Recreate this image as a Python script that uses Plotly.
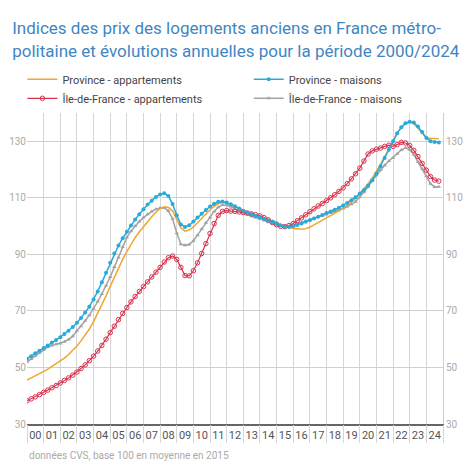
import plotly.graph_objects as go
import pandas as pd

dates = pd.date_range("2000-01-01", periods=100, freq="QS")

prov_appart = [
    45.5, 46.2, 46.9, 47.7,
    48.6, 49.4, 50.3, 51.2,
    52.2, 53.3, 54.6, 56.0,
    57.6, 59.4, 61.4, 63.6,
    66.2, 69.1, 72.2, 75.3,
    78.7, 82.0, 85.2, 88.2,
    91.0, 93.6, 95.9, 97.9,
    99.8, 101.6, 103.3, 104.9,
    106.2, 106.8, 106.6, 105.4,
    102.5, 99.4, 98.2, 98.6,
    99.7, 101.2, 102.8, 104.4,
    105.8, 107.0, 107.9, 108.3,
    108.2, 107.5, 106.8, 106.2,
    105.6, 105.0, 104.5, 104.0,
    103.5, 102.9, 102.3, 101.8,
    101.3, 100.6, 100.0, 99.5,
    99.2, 99.0, 98.9, 99.1,
    99.6, 100.4, 101.2, 102.0,
    102.9, 103.7, 104.5, 105.4,
    106.4, 107.4, 108.5, 109.8,
    111.5, 113.2, 115.0, 117.0,
    119.2, 121.8, 124.6, 127.5,
    130.3, 132.8, 134.9, 136.3,
    136.8, 136.2, 134.7, 132.8,
    131.4, 131.0, 131.0, 130.9,
]

prov_maisons = [
    53.1, 54.0, 55.0, 55.9,
    56.9, 57.8, 58.8, 59.7,
    60.7, 61.8, 63.0, 64.3,
    65.8, 67.5, 69.4, 71.5,
    74.0, 76.9, 80.1, 83.5,
    87.0, 90.3, 93.1, 95.7,
    98.0, 100.2, 102.3, 104.2,
    106.0, 107.6, 109.0, 110.3,
    111.2, 111.6, 110.6, 107.8,
    103.8, 100.6, 99.7, 100.3,
    101.6, 103.0, 104.4, 105.7,
    106.9, 107.9, 108.6, 108.7,
    108.3, 107.7, 107.0, 106.2,
    105.4, 104.8, 104.2, 103.6,
    103.1, 102.6, 102.0, 101.5,
    101.0, 100.2, 99.8, 99.7,
    99.9, 100.4, 100.9, 101.5,
    102.1, 102.7, 103.3, 103.9,
    104.6, 105.2, 105.8, 106.5,
    107.3, 108.2, 109.1, 110.2,
    111.5, 112.7, 114.3, 116.2,
    118.6, 121.2, 124.1, 127.0,
    130.0, 132.8, 135.0, 136.4,
    136.9, 136.6, 135.2, 133.3,
    131.2, 130.0, 129.7, 129.6,
]

idf_appart = [
    38.2, 38.9, 39.6, 40.4,
    41.2, 42.0, 42.8, 43.6,
    44.5, 45.4, 46.3, 47.3,
    48.4, 49.6, 50.9, 52.4,
    54.0, 55.8, 57.8, 60.0,
    62.3, 64.6, 66.9, 69.1,
    71.2, 73.2, 75.1, 76.9,
    78.6, 80.3, 82.0, 83.7,
    85.4, 87.3, 88.8, 89.4,
    88.2, 85.4, 82.5, 82.4,
    84.2, 87.0, 90.3, 93.8,
    97.4, 100.9, 103.8, 105.2,
    105.5, 105.3, 105.2, 105.0,
    104.8, 104.6, 104.3, 104.0,
    103.6, 103.0, 102.2, 101.3,
    100.5, 99.9, 99.8, 100.2,
    100.9, 101.9, 102.9, 104.0,
    105.1, 106.1, 107.1, 108.0,
    109.0, 110.0, 111.1, 112.3,
    113.5, 115.0, 116.7, 118.5,
    120.5, 123.0, 125.5, 126.6,
    127.2, 127.6, 128.2, 128.6,
    128.2, 128.8, 129.6, 129.4,
    128.5, 126.8, 124.6, 122.2,
    119.8, 117.5, 116.3, 115.9,
]

idf_maisons = [
    52.0, 53.0, 54.1, 55.2,
    56.3, 57.2, 57.8, 58.2,
    58.5, 59.1, 59.9, 61.0,
    63.0, 64.6, 66.5, 68.5,
    70.8, 73.3, 76.0, 78.9,
    82.0, 85.5, 88.9, 92.6,
    96.0, 98.2, 100.0, 101.6,
    103.0, 104.2, 105.2, 106.0,
    106.4, 106.5, 105.3, 102.6,
    97.5, 93.6, 93.2, 93.5,
    94.8, 96.8, 99.0, 101.2,
    103.0, 105.2, 106.7, 107.5,
    107.4, 106.9, 106.1, 105.4,
    104.7, 104.1, 103.5, 103.0,
    102.5, 102.0, 101.4, 100.9,
    100.5, 100.0, 99.8, 99.9,
    100.3, 100.8, 101.3, 101.8,
    102.3, 102.8, 103.3, 103.7,
    104.1, 104.6, 105.1, 105.6,
    106.2, 106.9, 107.7, 108.6,
    110.3, 112.0, 113.9, 116.0,
    118.0, 119.8, 121.5, 123.0,
    124.2, 125.6, 126.9, 127.7,
    127.0, 125.3, 122.8, 120.3,
    117.6, 115.0, 113.8, 113.9,
]

y_ticks = [30, 50, 70, 90, 110, 130]
x_range = ["2000-01-01", "2025-01-01"]

FONT = "Roboto, sans-serif"

fig = go.Figure()

fig.add_trace(go.Scatter(
    x=dates, y=idf_maisons, name="Île-de-France - maisons", legend="legend2",
    mode="lines+markers", line=dict(color="#a3a3a3", width=1.5),
    marker=dict(symbol="triangle-up", size=4, color="#a3a3a3"),
    legendrank=2,
))
fig.add_trace(go.Scatter(
    x=dates, y=prov_appart, name="Province - appartements", legend="legend",
    mode="lines", line=dict(color="#f0a62e", width=1.5),
    legendrank=1,
))
fig.add_trace(go.Scatter(
    x=dates, y=idf_appart, name="Île-de-France - appartements", legend="legend",
    mode="lines+markers", line=dict(color="#d8334f", width=1.2),
    marker=dict(symbol="circle-open", size=4.5, color="#d8334f", line=dict(width=1)),
    legendrank=2,
))
fig.add_trace(go.Scatter(
    x=dates, y=prov_maisons, name="Province - maisons", legend="legend2",
    mode="lines+markers", line=dict(color="#2aaad8", width=1.5),
    marker=dict(symbol="circle", size=4, color="#2aaad8"),
    legendrank=1,
))
# helper trace carrying the right-hand labels and year separators
fig.add_trace(go.Scatter(
    x=dates, y=prov_maisons, xaxis="x2", yaxis="y2", mode="lines", opacity=0,
    showlegend=False, hoverinfo="skip", line=dict(width=0),
))

legend_common = dict(
    orientation="v", xanchor="left", xref="paper",
    y=1.155, yanchor="top", yref="paper",
    font=dict(family=FONT, size=11, color="#444444"),
    traceorder="normal", itemwidth=30, tracegroupgap=0,
    bgcolor="rgba(0,0,0,0)",
)

fig.update_layout(
    width=466, height=464,
    margin=dict(l=18.7, r=30.7, t=105, b=48, autoexpand=False),
    paper_bgcolor="white", plot_bgcolor="white",
    font=dict(family=FONT, color="#555555", size=11),
    title=dict(
        text="Indices des prix des logements anciens en France métro-<br>politaine et évolutions annuelles pour la période 2000/2024",
        x=0.009, xanchor="left", xref="container",
        y=0.943, yanchor="top", yref="container",
        font=dict(family=FONT, size=17, color="#3f86c4"),
    ),
    legend=dict(x=-0.011, **legend_common),
    legend2=dict(x=0.533, **legend_common),
    showlegend=True,
    xaxis=dict(
        type="date", range=x_range,
        tick0="2000-01-01", dtick="M12", tickformat="%y",
        ticklabelmode="period", ticks="", ticklabelstandoff=0,
        showgrid=True, gridcolor="#d6d6d6", gridwidth=1,
        showline=True, linecolor="#666666", linewidth=2,
        tickfont=dict(family=FONT, size=11, color="#555555"),
        zeroline=False, automargin=False,
    ),
    xaxis2=dict(
        type="date", range=x_range, overlaying="x", anchor="y",
        tick0="2000-01-01", dtick="M12", showticklabels=False,
        ticks="outside", ticklen=18, tickcolor="#d6d6d6", tickwidth=1,
        showgrid=False, showline=False, zeroline=False, automargin=False,
    ),
    yaxis=dict(
        range=[30, 140], tickvals=y_ticks,
        showgrid=True, gridcolor="#cfcfcf", gridwidth=1,
        ticks="", tickfont=dict(family=FONT, size=10, color="#aaaaaa"),
        zeroline=False, showline=False, automargin=False,
    ),
    yaxis2=dict(
        range=[30, 140], tickvals=y_ticks, overlaying="y", side="right",
        anchor="x2",
        showgrid=False, ticks="", tickfont=dict(family=FONT, size=10, color="#aaaaaa"),
        zeroline=False, showline=True, linecolor="#cfcfcf", linewidth=1,
        automargin=False,
    ),
    annotations=[dict(
        text="données CVS, base 100 en moyenne en 2015",
        x=0, xref="paper", xanchor="left",
        y=-0.1, yref="paper", yanchor="middle",
        showarrow=False, font=dict(family=FONT, size=10, color="#aaaaaa"),
    )],
)

fig.write_html("out.html")
